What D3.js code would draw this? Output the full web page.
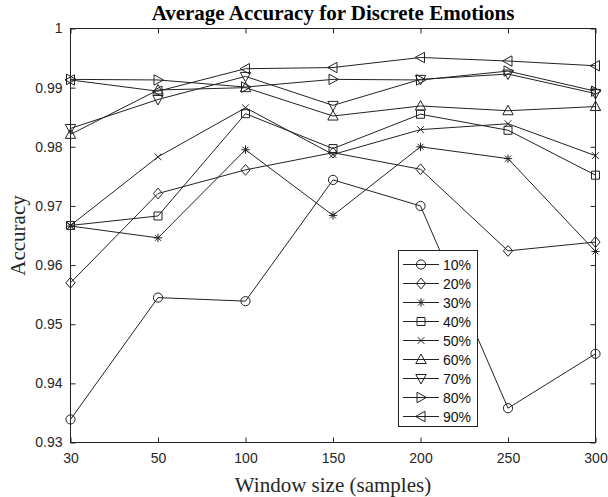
<!DOCTYPE html>
<html>
<head>
<meta charset="utf-8">
<script src="https://cdn.jsdelivr.net/npm/d3@7"></script>
<style>
  html, body { margin: 0; padding: 0; background: #fff; }
  svg { display: block; }
</style>
</head>
<body>
<svg id="chart" width="608" height="497"></svg>
<script>
const windows = ["30", "50", "100", "150", "200", "250", "300"];
const seriesNames = ["10%", "20%", "30%", "40%", "50%", "60%", "70%", "80%", "90%"];
const s10 = [0.9339, 0.9545, 0.9539, 0.9744, 0.9700, 0.9358, 0.9450];
const s20 = [0.9570, 0.9721, 0.9761, 0.9790, 0.9762, 0.9624, 0.9639];
const s30 = [0.9666, 0.9646, 0.9795, 0.9684, 0.9800, 0.9780, 0.9623];
const s40 = [0.9667, 0.9683, 0.9856, 0.9797, 0.9855, 0.9828, 0.9752];
const s50 = [0.9667, 0.9783, 0.9866, 0.9787, 0.9829, 0.9839, 0.9785];
const s60 = [0.9821, 0.9896, 0.9900, 0.9852, 0.9869, 0.9861, 0.9868];
const s70 = [0.9831, 0.9880, 0.9919, 0.9870, 0.9914, 0.9923, 0.9890];
const s80 = [0.9914, 0.9913, 0.9901, 0.9914, 0.9913, 0.9928, 0.9894];
const s90 = [0.9913, 0.9894, 0.9932, 0.9934, 0.9951, 0.9945, 0.9937];
const yTicks = [0.93, 0.94, 0.95, 0.96, 0.97, 0.98, 0.99, 1];
const yTickLabels = ["0.93", "0.94", "0.95", "0.96", "0.97", "0.98", "0.99", "1"];
const markers = ["circle", "diamond", "asterisk", "square", "x", "triUp", "triDown", "triRight", "triLeft"];

const allSeries = [s10, s20, s30, s40, s50, s60, s70, s80, s90];

const svg = d3.select("#chart");
const L = 70.5, R = 595.5, T = 28.5, B = 442.5;

const x = d3.scalePoint().domain(windows).range([L, R]).padding(0);
const y = d3.scaleLinear().domain([0.93, 1]).range([B, T]);

const ink = "#222";

function markerPath(type) {
  const p = d3.path();
  switch (type) {
    case "circle": p.arc(0, 0, 4.6, 0, 2 * Math.PI); break;
    case "diamond": p.moveTo(0, -5.4); p.lineTo(4.6, 0); p.lineTo(0, 5.4); p.lineTo(-4.6, 0); p.closePath(); break;
    case "asterisk": {
      const a = 4.2, b = 3.0;
      p.moveTo(-a, 0); p.lineTo(a, 0); p.moveTo(0, -a); p.lineTo(0, a);
      p.moveTo(-b, -b); p.lineTo(b, b); p.moveTo(-b, b); p.lineTo(b, -b); break;
    }
    case "square": p.rect(-4, -4, 8, 8); break;
    case "x": { const c = 3.4; p.moveTo(-c, -c); p.lineTo(c, c); p.moveTo(-c, c); p.lineTo(c, -c); break; }
    case "triUp": p.moveTo(0, -5.5); p.lineTo(5.2, 4); p.lineTo(-5.2, 4); p.closePath(); break;
    case "triDown": p.moveTo(0, 5.5); p.lineTo(5.2, -4); p.lineTo(-5.2, -4); p.closePath(); break;
    case "triRight": p.moveTo(5.5, 0); p.lineTo(-4, 5.2); p.lineTo(-4, -5.2); p.closePath(); break;
    case "triLeft": p.moveTo(-5.5, 0); p.lineTo(4, 5.2); p.lineTo(4, -5.2); p.closePath(); break;
  }
  return p.toString();
}

// Axes box
svg.append("rect").attr("x", L).attr("y", T).attr("width", R - L).attr("height", B - T)
  .attr("fill", "none").attr("stroke", ink).attr("stroke-width", 1);

const tickLen = 5;
const xAxisB = d3.axisBottom(x).tickSize(-tickLen).tickPadding(10);
const gxB = svg.append("g").attr("transform", `translate(0,${B})`).call(xAxisB);
const gxT = svg.append("g").attr("transform", `translate(0,${T})`).call(d3.axisTop(x).tickSize(-tickLen).tickFormat(""));
const yAxisL = d3.axisLeft(y).tickValues(yTicks).tickSize(-tickLen).tickPadding(8)
  .tickFormat((d, i) => yTickLabels[i]);
const gyL = svg.append("g").attr("transform", `translate(${L},0)`).call(yAxisL);
const gyR = svg.append("g").attr("transform", `translate(${R},0)`).call(d3.axisRight(y).tickValues(yTicks).tickSize(-tickLen).tickFormat(""));

[gxB, gxT, gyL, gyR].forEach(g => {
  g.select(".domain").remove();
  g.selectAll(".tick line").attr("stroke", ink).attr("stroke-width", 1);
  g.selectAll(".tick text").attr("fill", "#262626")
    .style("font-family", "Liberation Sans, Arial, sans-serif").style("font-size", "14px");
});
gxB.selectAll(".tick text").attr("dy", "0.71em").attr("y", 11);

// Lines and markers
const line = d3.line().x((d, i) => x(windows[i])).y(d => y(d));
const gPlot = svg.append("g");
allSeries.forEach((vals, si) => {
  gPlot.append("path").datum(vals).attr("d", line)
    .attr("fill", "none").attr("stroke", ink).attr("stroke-width", 1);
  gPlot.selectAll(null).data(vals).enter().append("path")
    .attr("transform", (d, i) => `translate(${x(windows[i])},${y(d)})`)
    .attr("d", markerPath(markers[si]))
    .attr("fill", "none").attr("stroke", ink).attr("stroke-width", 1);
});

// Legend
const lg = svg.append("g");
const lx = 398.5, ly = 250.5, lw = 79, lh = 176;
lg.append("rect").attr("x", lx).attr("y", ly).attr("width", lw).attr("height", lh)
  .attr("fill", "#fff").attr("stroke", ink).attr("stroke-width", 1);
const legendY = d3.scalePoint().domain(seriesNames).range([264.5, 416.5]);
seriesNames.forEach((name, i) => {
  const yy = legendY(name);
  lg.append("line").attr("x1", 403).attr("x2", 439).attr("y1", yy).attr("y2", yy)
    .attr("stroke", ink).attr("stroke-width", 1);
  lg.append("path").attr("transform", `translate(421,${yy})`).attr("d", markerPath(markers[i]))
    .attr("fill", "none").attr("stroke", ink).attr("stroke-width", 1);
  lg.append("text").attr("x", 443).attr("y", yy + 5).text(name)
    .attr("fill", "#111").style("font-family", "Liberation Sans, Arial, sans-serif").style("font-size", "14px");
});

// Title and axis labels
svg.append("text").attr("x", (L + R) / 2).attr("y", 20).attr("text-anchor", "middle")
  .style("font-family", "Liberation Serif, Times New Roman, serif").style("font-size", "21px")
  .style("font-weight", "bold").attr("fill", "#000").text("Average Accuracy for Discrete Emotions");
svg.append("text").attr("x", (L + R) / 2).attr("y", 492).attr("text-anchor", "middle")
  .style("font-family", "Liberation Serif, Times New Roman, serif").style("font-size", "21px")
  .attr("fill", "#262626").text("Window size (samples)");
svg.append("text").attr("transform", `translate(25,${(T + B) / 2}) rotate(-90)`).attr("text-anchor", "middle")
  .style("font-family", "Liberation Serif, Times New Roman, serif").style("font-size", "21px")
  .attr("fill", "#262626").text("Accuracy");
</script>
</body>
</html>
